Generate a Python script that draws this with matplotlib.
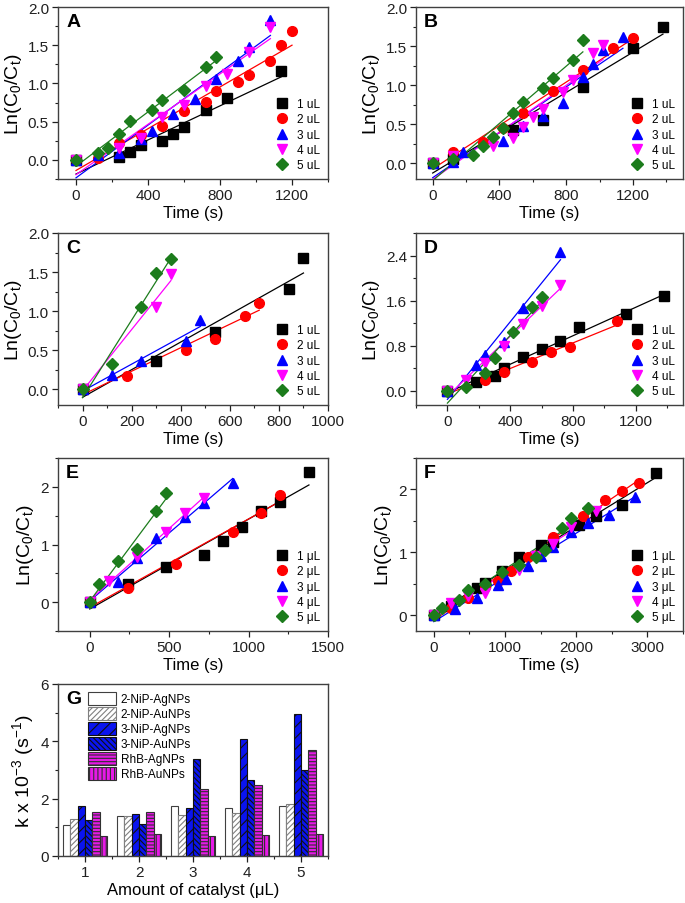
import numpy as np
import matplotlib.pyplot as plt
from matplotlib.ticker import AutoMinorLocator, MultipleLocator

plt.rcParams['font.family'] = ['Liberation Sans', 'DejaVu Sans']
plt.rcParams['mathtext.fontset'] = 'custom'
plt.rcParams['mathtext.rm'] = 'Liberation Sans'
plt.rcParams['mathtext.it'] = 'Liberation Sans'
plt.rcParams['hatch.linewidth'] = 0.8
plt.rcParams['axes.edgecolor'] = '#404040'

colors = ['black', 'red', 'blue', 'magenta', '#1c7c1c']
markers = ['s', 'o', '^', 'v', 'D']
labels_u = ['1 uL', '2 uL', '3 uL', '4 uL', '5 uL']
labels_mu = ['1 \u03bcL', '2 \u03bcL', '3 \u03bcL', '4 \u03bcL', '5 \u03bcL']

# ---- panel A ----
A_t = [[0, 240, 300, 360, 480, 540, 600, 720, 840, 1140],
       [0, 120, 240, 360, 480, 600, 720, 780, 900, 960, 1080, 1140, 1200],
       [0, 120, 240, 360, 420, 540, 660, 780, 900, 960, 1080],
       [0, 240, 360, 480, 600, 720, 840, 960, 1080],
       [0, 120, 180, 240, 300, 420, 480, 600, 720, 780]]
A_y = [[0, 0.04, 0.10, 0.19, 0.25, 0.34, 0.43, 0.65, 0.81, 1.16],
       [0, 0.02, 0.22, 0.33, 0.44, 0.64, 0.76, 0.90, 1.02, 1.11, 1.29, 1.50, 1.69],
       [0, 0.06, 0.09, 0.27, 0.38, 0.60, 0.80, 1.06, 1.30, 1.48, 1.83],
       [0, 0.15, 0.28, 0.56, 0.72, 0.97, 1.13, 1.41, 1.74],
       [0, 0.09, 0.15, 0.34, 0.51, 0.65, 0.78, 0.91, 1.22, 1.34]]

# ---- panel B ----
B_t = [[0, 120, 480, 660, 900, 1200, 1380],
       [0, 120, 300, 420, 540, 720, 900, 1080, 1200],
       [0, 120, 180, 420, 540, 660, 780, 900, 960, 1020, 1140],
       [0, 120, 360, 480, 540, 600, 660, 780, 840, 960, 1020],
       [0, 120, 240, 300, 360, 420, 480, 540, 660, 720, 840, 900]]
B_y = [[0, 0.05, 0.43, 0.56, 0.98, 1.48, 1.74],
       [0, 0.14, 0.27, 0.45, 0.64, 0.93, 1.19, 1.47, 1.60],
       [0, 0.02, 0.14, 0.28, 0.48, 0.61, 0.77, 1.10, 1.27, 1.45, 1.62],
       [0, 0.10, 0.22, 0.33, 0.47, 0.59, 0.70, 0.91, 1.07, 1.41, 1.51],
       [0, 0.05, 0.11, 0.22, 0.34, 0.45, 0.65, 0.79, 0.96, 1.09, 1.32, 1.58]]

# ---- panel C ----
C_t = [[0, 300, 540, 840, 900],
       [0, 180, 420, 540, 660, 720],
       [0, 120, 240, 420, 480],
       [0, 300, 360],
       [0, 120, 240, 300, 360]]
C_y = [[0, 0.36, 0.73, 1.28, 1.68],
       [0, 0.175, 0.50, 0.65, 0.94, 1.11],
       [0, 0.19, 0.36, 0.62, 0.89],
       [0, 1.05, 1.48],
       [0, 0.32, 1.05, 1.49, 1.67]]

# ---- panel D ----
D_t = [[0, 180, 300, 360, 480, 600, 720, 840, 1140, 1380],
       [0, 240, 360, 540, 660, 780, 1080],
       [0, 180, 240, 360, 480, 720],
       [0, 120, 240, 360, 480, 600, 720],
       [0, 120, 240, 300, 420, 540, 600]]
D_y = [[0, 0.16, 0.27, 0.41, 0.60, 0.75, 0.89, 1.13, 1.37, 1.68],
       [0, 0.20, 0.34, 0.52, 0.69, 0.77, 1.24],
       [0, 0.46, 0.64, 0.87, 1.47, 2.47],
       [0, 0.20, 0.49, 0.79, 1.18, 1.50, 1.88],
       [0, 0.07, 0.31, 0.59, 1.04, 1.48, 1.66]]

# ---- panel E ----
E_t = [[0, 240, 480, 720, 840, 960, 1080, 1200, 1380],
       [0, 240, 540, 900, 1080, 1200],
       [0, 180, 300, 420, 600, 720, 900],
       [0, 120, 300, 480, 600, 720],
       [0, 60, 180, 300, 420, 480]]
E_y = [[0, 0.32, 0.61, 0.82, 1.06, 1.31, 1.58, 1.74, 2.25],
       [0, 0.24, 0.66, 1.22, 1.55, 1.86],
       [0, 0.35, 0.77, 1.12, 1.48, 1.72, 2.07],
       [0, 0.37, 0.79, 1.22, 1.54, 1.81],
       [0, 0.32, 0.72, 0.92, 1.58, 1.89]]

# ---- panel F ----
F_t = [[0, 240, 600, 720, 960, 1200, 1500, 1680, 2040, 2280, 2640, 3120],
       [0, 240, 480, 720, 900, 1080, 1320, 1680, 2100, 2400, 2640, 2880],
       [0, 300, 600, 900, 1020, 1320, 1500, 1680, 1920, 2160, 2460, 2820],
       [0, 240, 480, 720, 1200, 1440, 1680, 1920, 2280],
       [0, 120, 360, 480, 720, 960, 1200, 1440, 1560, 1800, 1920, 2160]]
F_y = [[0, 0.15, 0.43, 0.52, 0.70, 0.93, 1.11, 1.17, 1.43, 1.58, 1.75, 2.26],
       [0, 0.12, 0.27, 0.45, 0.55, 0.71, 0.93, 1.25, 1.58, 1.84, 1.98, 2.10],
       [0, 0.10, 0.27, 0.48, 0.57, 0.79, 0.95, 1.08, 1.32, 1.47, 1.60, 1.88],
       [0, 0.20, 0.30, 0.35, 0.72, 0.95, 1.14, 1.40, 1.65],
       [0, 0.12, 0.25, 0.40, 0.50, 0.68, 0.80, 0.93, 1.04, 1.38, 1.54, 1.70]]

# ---- panel G ----
G_amount = [1, 2, 3, 4, 5]
G_names = ['2-NiP-AgNPs', '2-NiP-AuNPs', '3-NiP-AgNPs', '3-NiP-AuNPs', 'RhB-AgNPs', 'RhB-AuNPs']
G_k_2nip_ag = [1.09, 1.38, 1.74, 1.66, 1.76]
G_k_2nip_au = [1.30, 1.38, 1.42, 1.49, 1.80]
G_k_3nip_ag = [1.74, 1.48, 1.69, 4.07, 4.97]
G_k_3nip_au = [1.24, 1.13, 3.40, 2.65, 2.99]
G_k_rhb_ag = [1.53, 1.52, 2.35, 2.47, 3.69]
G_k_rhb_au = [0.70, 0.76, 0.70, 0.73, 0.76]

W, H = 685, 904
fig = plt.figure(figsize=(W / 100, H / 100), dpi=100)


def ax_at(left, top, right, bottom):
    return fig.add_axes([left / W, 1 - bottom / H, (right - left) / W, (bottom - top) / H])


def style(ax):
    ax.tick_params(which='both', direction='out', labelsize=11, colors='#202020', top=False, right=False)
    ax.tick_params(which='major', length=4, width=0.9, pad=2.5)
    ax.tick_params(which='minor', length=2.5, width=0.8)
    ax.xaxis.set_minor_locator(AutoMinorLocator(2))
    ax.yaxis.set_minor_locator(AutoMinorLocator(2))
    for s in ax.spines.values():
        s.set_linewidth(1.0)


def kinetics(ax, T, Y, letter, labels, xlim, ylim, xstep, ystep, yfmt):
    for i in range(5):
        t = np.array(T[i], dtype=float)
        y = np.array(Y[i], dtype=float)
        p = np.polyfit(t, y, 1)
        xx = np.array([0, t.max()])
        ax.plot(xx, np.polyval(p, xx), color=colors[i], lw=0.9, zorder=2)
        ms = 7 if markers[i] != 'D' else 6.3
        ax.plot(t, y, ls='none', marker=markers[i], color=colors[i], ms=ms,
                label=labels[i], zorder=3)
    ax.set_xlim(*xlim)
    ax.set_ylim(*ylim)
    ax.xaxis.set_major_locator(MultipleLocator(xstep))
    ax.yaxis.set_major_locator(MultipleLocator(ystep))
    ax.yaxis.set_major_formatter(plt.FormatStrFormatter(yfmt))
    style(ax)
    ax.set_xlabel('Time (s)', fontsize=12, labelpad=2)
    ax.set_ylabel('Ln(C$_0$/C$_t$)', fontsize=14, labelpad=3)
    ax.text(0.03, 0.965, letter, transform=ax.transAxes, fontsize=14,
            fontweight='bold', va='top', ha='left')
    ax.legend(loc='lower right', frameon=False, fontsize=8.5, labelspacing=0.28,
              handletextpad=0.7, borderaxespad=0.25, handlelength=1.2)


L0, R0 = 58, 328
L1, R1 = 416, 683
rows = [(8, 180), (234, 406), (459, 632)]

axA = ax_at(L0, rows[0][0], R0, rows[0][1])
kinetics(axA, A_t, A_y, 'A', labels_u, (-100, 1400), (-0.25, 2.0), 400, 0.5, '%.1f')
axB = ax_at(L1, rows[0][0], R1, rows[0][1])
kinetics(axB, B_t, B_y, 'B', labels_u, (-100, 1500), (-0.2, 2.0), 400, 0.5, '%.1f')
axC = ax_at(L0, rows[1][0], R0, rows[1][1])
kinetics(axC, C_t, C_y, 'C', labels_u, (-100, 1000), (-0.2, 2.0), 200, 0.5, '%.1f')
axD = ax_at(L1, rows[1][0], R1, rows[1][1])
kinetics(axD, D_t, D_y, 'D', labels_u, (-200, 1500), (-0.25, 2.8), 400, 0.8, '%.1f')
axE = ax_at(L0, rows[2][0], R0, rows[2][1])
kinetics(axE, E_t, E_y, 'E', labels_mu, (-200, 1500), (-0.5, 2.5), 500, 1, '%d')
axF = ax_at(L1, rows[2][0], R1, rows[2][1])
kinetics(axF, F_t, F_y, 'F', labels_mu, (-250, 3500), (-0.25, 2.5), 1000, 1, '%d')

# ---- bar chart G ----
axG = ax_at(L0, 685, R0, 857)
w = 0.135
x = np.array(G_amount, dtype=float)
series = [G_k_2nip_ag, G_k_2nip_au, G_k_3nip_ag, G_k_3nip_au, G_k_rhb_ag, G_k_rhb_au]
faces = ['white', 'white', '#0a14f0', '#0a14f0', '#e619e6', '#e619e6']
hatches = [None, '//////', '///', '\\\\\\\\\\\\', '-----', '||||']
edges = ['#404040', '#808080', '#101010', '#101010', '#303030', '#303030']
for i, vals in enumerate(series):
    axG.bar(x + (i - 2.5) * w, vals, width=w, color=faces[i], hatch=hatches[i],
            edgecolor=edges[i], linewidth=0.8, label=G_names[i])
axG.set_xlim(0.5, 5.5)
axG.set_ylim(0, 6)
axG.set_xticks(G_amount)
axG.yaxis.set_major_locator(MultipleLocator(2))
style(axG)
axG.set_xlabel('Amount of catalyst (\u03bcL)', fontsize=12, labelpad=2)
axG.set_ylabel('k x 10$^{-3}$ (s$^{-1}$)', fontsize=14, labelpad=3)
axG.text(0.03, 0.965, 'G', transform=axG.transAxes, fontsize=14,
         fontweight='bold', va='top', ha='left')
axG.legend(loc='upper left', bbox_to_anchor=(0.08, 1.0), frameon=False, fontsize=8.5,
           labelspacing=0.15, handlelength=2.4, handleheight=1.25, handletextpad=0.4,
           borderaxespad=0.3)

fig.savefig('out.png', dpi=100)
